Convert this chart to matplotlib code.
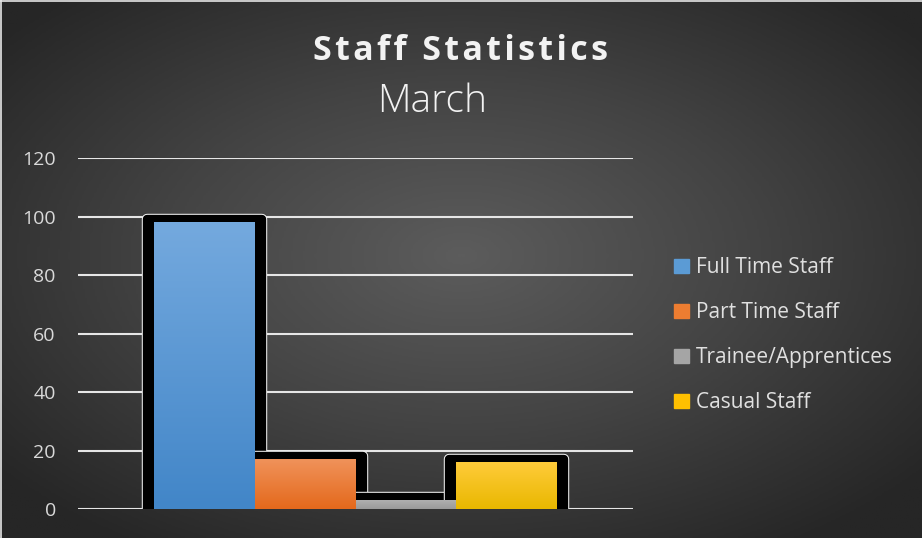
import numpy as np
import matplotlib
matplotlib.use("Agg")
import matplotlib.pyplot as plt
from matplotlib import patheffects as pe
from matplotlib.colors import LinearSegmentedColormap
from matplotlib.lines import Line2D

# ---- DATA ----
series = ["Full Time Staff", "Part Time Staff", "Trainee/Apprentices", "Casual Staff"]
values = [98, 17, 3, 16]
yticks = [0, 20, 40, 60, 80, 100, 120]
title = "Staff Statistics"
subtitle = "March"

# gradient colours (top, bottom) per series
grad_top = ["#74a9de", "#f0925a", "#b0b0b0", "#ffcb3a"]
grad_bot = ["#4286c8", "#e4691c", "#9a9a9a", "#e9b800"]
legend_cols = ["#5b9bd5", "#ed7d31", "#a5a5a5", "#ffc000"]

plt.rcParams["font.family"] = ["Open Sans", "DejaVu Sans"]

fig = plt.figure(figsize=(9.22, 5.38), dpi=100)

# ---- background: radial gradient ----
bg = fig.add_axes([0, 0, 1, 1], zorder=-10)
gx, gy = np.meshgrid(np.linspace(-1, 1, 400), np.linspace(-1, 1, 240))
r = np.sqrt(gx ** 2 + (gy - 0.05) ** 2)
r = np.clip(r / 1.3, 0, 1)
bg_cmap = LinearSegmentedColormap.from_list("bg", ["#5c5c5c", "#434343", "#262626"])
bg.imshow(r, cmap=bg_cmap, aspect="auto", extent=[0, 1, 0, 1], origin="lower")
bg.set_axis_off()
# thin light border top/left
fig.add_artist(Line2D([0.001, 0.001], [0, 1], color="#e6e6e6", lw=1.2, transform=fig.transFigure))
fig.add_artist(Line2D([0, 1], [0.999, 0.999], color="#e6e6e6", lw=1.2, transform=fig.transFigure))

# ---- main axes ----
ax = fig.add_axes([0.0846, 0.0539, 0.6020, 0.6524])
ax.patch.set_alpha(0)

gap = 1.5
w = 1 / (len(series) + gap)
xs = (np.arange(len(series)) - (len(series) - 1) / 2) * w

# px -> data conversions for the dark halo around bars
px_x = 1 / 555.0
px_y = 120 / 350.0
halo = [pe.Stroke(linewidth=7.5, foreground="#f2f2f2", joinstyle="round"),
        pe.Stroke(linewidth=6, foreground="black", joinstyle="round"),
        pe.Normal()]
ax.bar(xs, np.array(values) + 3 * px_y, width=w + 14 * px_x, color="black",
       edgecolor="black", linewidth=0, zorder=2, path_effects=halo)

bars = ax.bar(xs, values, width=w, color=legend_cols, linewidth=0, zorder=3)
grad = np.linspace(1, 0, 100).reshape(-1, 1)
for b, ct, cb in zip(bars, grad_top, grad_bot):
    cm = LinearSegmentedColormap.from_list("g", [cb, ct])
    im = ax.imshow(grad, cmap=cm, aspect="auto", zorder=4,
                   extent=[b.get_x(), b.get_x() + b.get_width(), 0, b.get_height()])
    im.set_clip_path(b)

ax.set_xlim(-0.5, 0.5)
ax.set_ylim(0, 120)

# grid
ax.set_yticks(yticks)
ax.yaxis.grid(True, color="#e6e6e6", linewidth=1.5, zorder=1)
ax.set_axisbelow(True)
ax.tick_params(axis="y", length=0, pad=16, labelsize=14, labelcolor="#d9d9d9")
ax.tick_params(axis="x", length=0, labelbottom=False)
for s in ax.spines.values():
    s.set_visible(False)

# ---- legend ----
handles = [plt.Rectangle((0, 0), 1, 1, color=c) for c in legend_cols]
leg = fig.legend(handles, series, loc="upper left", bbox_to_anchor=(0.722, 0.537),
                 frameon=False, fontsize=15, labelcolor="#e0e0e0",
                 handlelength=0.7, handleheight=0.7, handletextpad=0.35,
                 labelspacing=1.15, borderaxespad=0)

# ---- titles ----
spaced = "\u200a".join(title)
fig.text(0.499, 0.905, spaced, ha="center", va="center", fontsize=24.5,
         fontweight="bold", color="#f2f2f2")
fig.text(0.469, 0.81, subtitle, ha="center", va="center", fontsize=28,
         fontweight="light", color="#f2f2f2")

fig.savefig("out.png", dpi=100)
